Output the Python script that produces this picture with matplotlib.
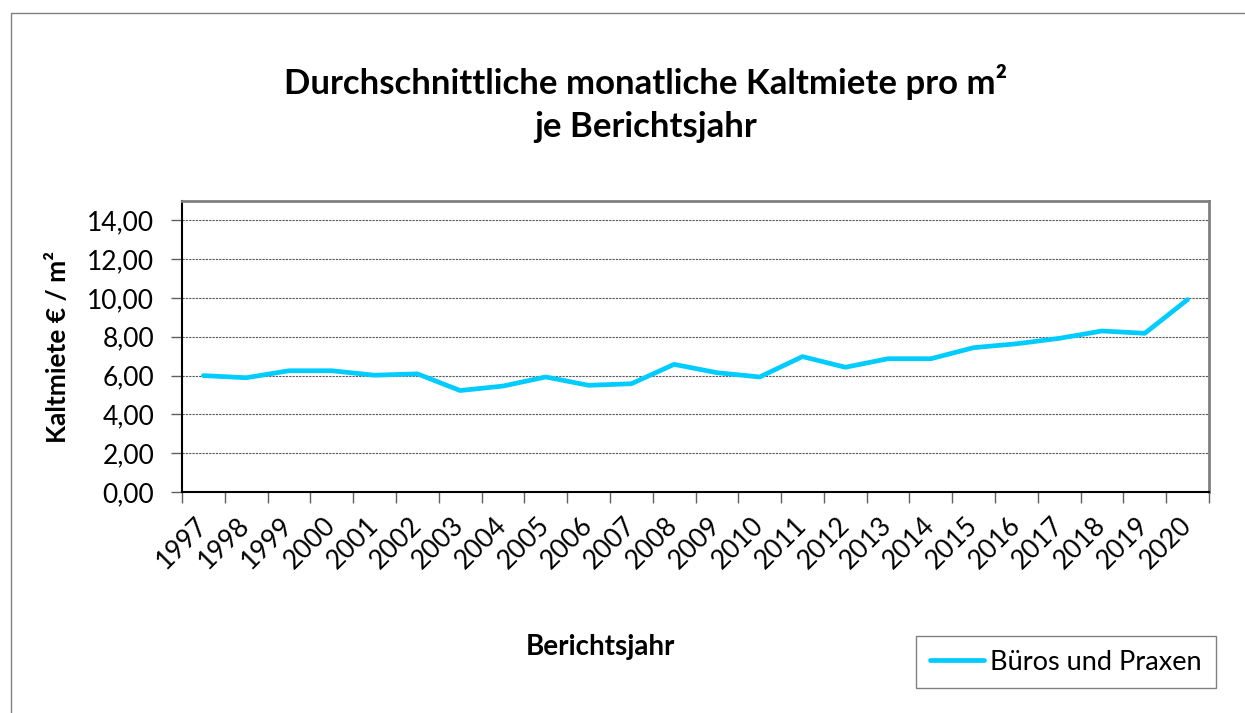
import matplotlib.pyplot as plt
from matplotlib.patches import Rectangle
from matplotlib.ticker import FixedLocator, FuncFormatter

plt.rcParams['font.family'] = ['Lato', 'DejaVu Sans']

jahre = [str(j) for j in range(1997, 2021)]
miete = [6.00, 5.89, 6.25, 6.25, 6.02, 6.09, 5.23, 5.46, 5.93, 5.50, 5.58, 6.58,
         6.15, 5.93, 6.98, 6.43, 6.87, 6.87, 7.44, 7.64, 7.92, 8.30, 8.18, 9.92]
serie = 'Büros und Praxen'
y_ticks = [0, 2, 4, 6, 8, 10, 12, 14]

fig = plt.figure(figsize=(12.45, 7.13), dpi=100)
fig.patches.append(Rectangle((11 / 1245, -0.1), 1.2, 1 - 13 / 713 + 0.1,
                             transform=fig.transFigure, fill=False,
                             edgecolor='#808080', lw=1.0))

ax = fig.add_axes([182 / 1245, 1 - 492 / 713, (1209 - 182) / 1245, (492 - 201) / 713])
x = list(range(len(jahre)))
line, = ax.plot(x, miete, color='#00CCFF', lw=3.4, solid_capstyle='round',
                solid_joinstyle='round', label=serie, zorder=3)

ax.set_xlim(-0.5, len(jahre) - 0.5)
ax.set_ylim(0, 15)
ax.set_yticks(y_ticks)
ax.yaxis.set_major_formatter(FuncFormatter(lambda v, p: f'{v:.2f}'.replace('.', ',')))
ax.set_xticks(x)
ax.set_xticklabels(jahre, rotation=45, ha='right', va='center', rotation_mode='anchor')
ax.xaxis.set_minor_locator(FixedLocator([i - 0.5 for i in range(len(jahre) + 1)]))
ax.tick_params(axis='x', which='major', length=0, pad=21, labelsize=19)
ax.tick_params(axis='x', which='minor', length=8, width=1, color='#606060')
ax.tick_params(axis='y', length=8, width=1, color='#606060', pad=12, labelsize=19)

ax.grid(axis='y', color='#555555', lw=0.8, linestyle=(0, (2, 1)))
ax.set_axisbelow(True)
for s in ['left', 'bottom']:
    ax.spines[s].set_color('black')
    ax.spines[s].set_linewidth(1.5)
for s in ['top', 'right']:
    ax.spines[s].set_color('#808080')
    ax.spines[s].set_linewidth(2)

ax.set_ylabel('Kaltmiete € / m²', fontsize=19, fontweight='bold', labelpad=12)

fig.text(646 / 1245, 1 - 82 / 713, 'Durchschnittliche monatliche Kaltmiete pro m²',
         ha='center', va='center', fontsize=25, fontweight='bold')
fig.text(646 / 1245, 1 - 127 / 713, 'je Berichtsjahr',
         ha='center', va='center', fontsize=25, fontweight='bold')
fig.text(600 / 1245, 1 - 647 / 713, 'Berichtsjahr',
         ha='center', va='center', fontsize=20, fontweight='bold')

leg = fig.legend(handles=[line], loc='upper left',
                 bbox_to_anchor=(916 / 1245, 1 - 636 / 713),
                 fontsize=19.5, frameon=True, fancybox=False, handlelength=2.0,
                 handletextpad=0.25, borderpad=0.5, borderaxespad=0)
leg.get_frame().set_edgecolor('#606060')
leg.get_frame().set_linewidth(1)

fig.savefig('out.png', dpi=100)
